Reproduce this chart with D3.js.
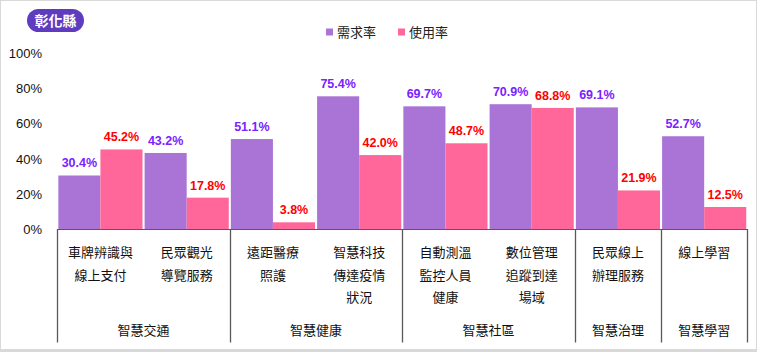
<!DOCTYPE html>
<html><head><meta charset="utf-8">
<script src="https://cdn.jsdelivr.net/npm/d3@7"></script>
<style>
html,body{margin:0;padding:0;background:#fff;}
svg{display:block;}
</style></head>
<body><svg id="c" width="757" height="352"></svg>
<script>
const title = "彰化縣";
const seriesNames = ["需求率", "使用率"];
const categories = [
  ["車牌辨識與", "線上支付"],
  ["民眾觀光", "導覽服務"],
  ["遠距醫療", "照護"],
  ["智慧科技", "傳達疫情", "狀況"],
  ["自動測溫", "監控人員", "健康"],
  ["數位管理", "追蹤到達", "場域"],
  ["民眾線上", "辦理服務"],
  ["線上學習"]
];
const groups = [
  {name: "智慧交通", size: 2},
  {name: "智慧健康", size: 2},
  {name: "智慧社區", size: 2},
  {name: "智慧治理", size: 1},
  {name: "智慧學習", size: 1}
];
const demand = [30.4, 43.2, 51.1, 75.4, 69.7, 70.9, 69.1, 52.7];
const usage = [45.2, 17.8, 3.8, 42.0, 48.7, 68.8, 21.9, 12.5];
const yTicks = [0, 20, 40, 60, 80, 100];

const colors = ["#a974d6", "#ff6699"];
const labelColors = ["#7a22ff", "#ff0000"];

const svg = d3.select("#c");
const W = 757, H = 352;
const cjk = "'Noto Sans CJK TC','Noto Sans CJK SC',sans-serif";
const num = "'Liberation Sans',Arial,sans-serif";

// frame
svg.append("rect").attr("x",0).attr("y",0).attr("width",W).attr("height",H).attr("fill","#d9d9d9");
svg.append("rect").attr("x",1).attr("y",1).attr("width",755).attr("height",348).attr("fill","#fff");

const pLeft = 57.3, pRight = 747.3, pTop = 53, pBottom = 229;
const x0 = d3.scaleBand().domain(d3.range(categories.length)).range([pLeft, pRight]).paddingInner(0).paddingOuter(0);
const x1 = d3.scaleBand().domain([0,1]).range([0, x0.bandwidth()]).paddingOuter(0.025).paddingInner(0);
const y = d3.scaleLinear().domain([0,100]).range([pBottom, pTop]);

// title badge
svg.append("rect").attr("x",27).attr("y",9).attr("width",57).attr("height",23).attr("rx",11.5).attr("fill","#5e3bbf");
svg.append("text").attr("x",55.5).attr("y",25.5).attr("text-anchor","middle").attr("fill","#fff")
  .attr("font-family",cjk).attr("font-size",14).attr("font-weight","bold").text(title);

// legend
const legX = [326, 398];
seriesNames.forEach((n,i)=>{
  svg.append("rect").attr("x",legX[i]).attr("y",28.5).attr("width",7).attr("height",7).attr("fill",colors[i]);
  svg.append("text").attr("x",legX[i]+11).attr("y",37).attr("font-family",cjk).attr("font-size",13).attr("fill","#222").text(n);
});

// y axis labels
const yAxis = d3.axisLeft(y).tickValues(yTicks).tickFormat(d=>d+"%").tickSize(0).tickPadding(0);
const ya = svg.append("g").attr("transform","translate(42,0)").call(yAxis);
ya.select(".domain").remove();
ya.selectAll("text").attr("font-family",num).attr("font-size",13).attr("fill","#111").attr("dy","0.35em");

// bars
const data = categories.map((c,i)=>({i, vals:[demand[i], usage[i]]}));
const g = svg.append("g");
data.forEach(d=>{
  d.vals.forEach((v,s)=>{
    const bx = x0(d.i) + x1(s);
    g.append("rect").attr("x",bx).attr("y",y(v)).attr("width",x1.bandwidth()).attr("height",pBottom-y(v)).attr("fill",colors[s]);
    g.append("text").attr("x",bx + x1.bandwidth()/2).attr("y",y(v)-8).attr("text-anchor","middle")
      .attr("font-family",num).attr("font-size",12.5).attr("font-weight","bold").attr("fill",labelColors[s])
      .text(v.toFixed(1)+"%");
  });
});

// axis baseline and group separators
const axisColor = "#595959";
svg.append("line").attr("x1",pLeft).attr("x2",pRight).attr("y1",pBottom+0.5).attr("y2",pBottom+0.5).attr("stroke",axisColor).attr("stroke-width",1);
let idx = 0;
const bounds = [0];
groups.forEach(gr=>{ idx += gr.size; bounds.push(idx); });
bounds.forEach(b=>{
  const xx = Math.round(b < categories.length ? x0(b) : pRight) + 0.5;
  svg.append("line").attr("x1",xx).attr("x2",xx).attr("y1",pBottom).attr("y2",342.5).attr("stroke",axisColor).attr("stroke-width",1.3);
});

// category labels
categories.forEach((lines,i)=>{
  const cx = x0(i) + x0.bandwidth()/2;
  lines.forEach((t,k)=>{
    svg.append("text").attr("x",cx).attr("y",257+k*22.5).attr("text-anchor","middle")
      .attr("font-family",cjk).attr("font-size",13).attr("fill","#111").text(t);
  });
});
// group labels
let start = 0;
groups.forEach(gr=>{
  const xa = x0(start), xb = (start+gr.size < categories.length) ? x0(start+gr.size) : pRight;
  svg.append("text").attr("x",(xa+xb)/2).attr("y",335).attr("text-anchor","middle")
    .attr("font-family",cjk).attr("font-size",13).attr("fill","#111").text(gr.name);
  start += gr.size;
});
</script></body></html>
